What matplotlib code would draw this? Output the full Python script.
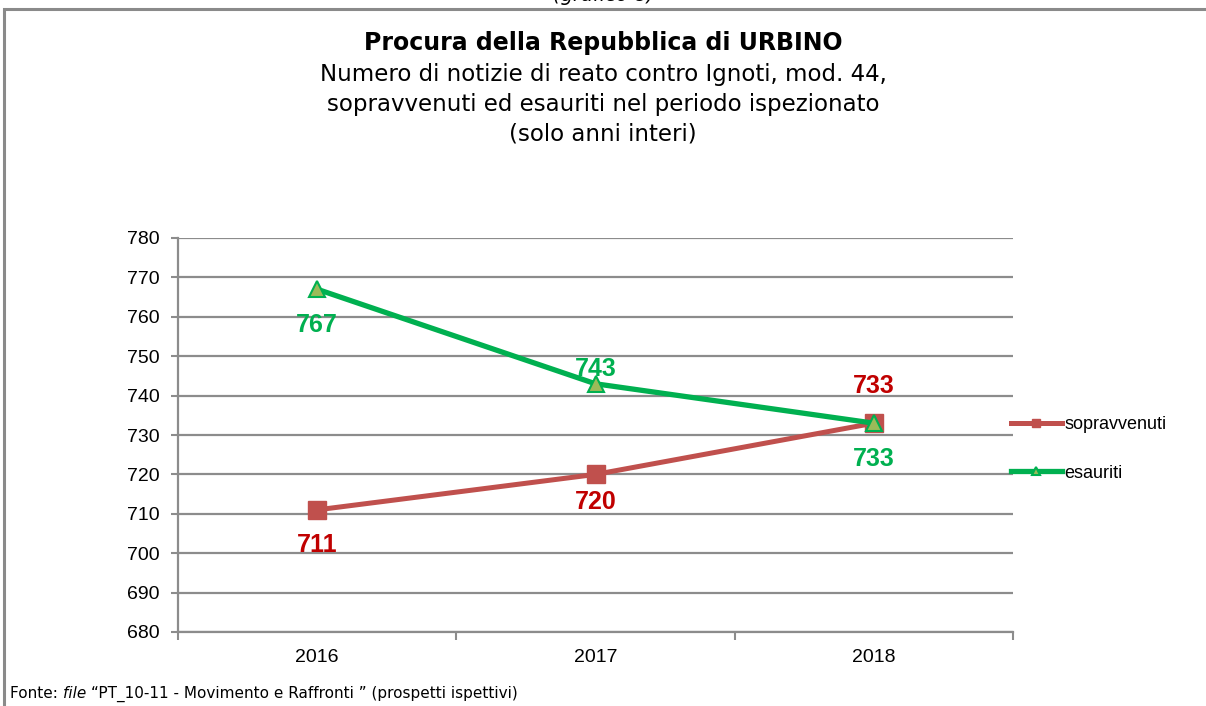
#!/usr/bin/env python3
"""Procura di Urbino - notizie di reato contro Ignoti, mod. 44"""

import matplotlib
matplotlib.use('Agg')
import matplotlib.pyplot as plt
from matplotlib.patches import Rectangle

years = ['2016', '2017', '2018']
sopravvenuti = [711, 720, 733]
esauriti = [767, 743, 733]

y_ticks = list(range(680, 781, 10))

title = 'Procura della Repubblica di URBINO'
subtitle = ('Numero di notizie di reato contro Ignoti, mod. 44,\n'
            'sopravvenuti ed esauriti nel periodo ispezionato\n'
            '(solo anni interi)')

W, H = 1206, 706
GRID = '#8c8c8c'


def main() -> None:
    fig = plt.figure(figsize=(W / 100, H / 100), dpi=100)
    ax = fig.add_axes([178 / W, 1 - 632 / H, (1013 - 178) / W, (632 - 238) / H])

    x = list(range(len(years)))
    ax.plot(x, sopravvenuti, color='#c0504d', lw=3.6, marker='s', ms=13,
            mfc='#c0504d', mec='#c0504d', label='sopravvenuti', zorder=3)
    ax.plot(x, esauriti, color='#00b050', lw=3.8, marker='^', ms=12,
            mfc='#9bbb59', mec='#00b050', mew=1.5, label='esauriti', zorder=4)

    lab = dict(ha='center', va='center', fontsize=18, fontweight='bold',
               family='Liberation Sans', textcoords='offset points')
    off_s = [-25, -20, 27]
    off_e = [-26, 11, -26]
    for i, v in enumerate(sopravvenuti):
        ax.annotate(str(v), (i, v), xytext=(0, off_s[i]), color='#c00000', **lab)
    for i, v in enumerate(esauriti):
        ax.annotate(str(v), (i, v), xytext=(0, off_e[i]), color='#00b050', **lab)

    ax.set_xlim(-0.5, 2.5)
    ax.set_ylim(680, 780)
    ax.set_yticks(y_ticks)
    ax.set_xticks(x)
    ax.set_xticklabels(years)
    ax.set_xticks([-0.5, 0.5, 1.5, 2.5], minor=True)
    ax.tick_params(axis='x', which='major', length=0, pad=12)
    ax.tick_params(axis='x', which='minor', length=6, width=1.5, color=GRID)
    ax.tick_params(axis='y', length=5, width=1.5, color=GRID, pad=8)
    for t in ax.get_xticklabels() + ax.get_yticklabels():
        t.set_family('Liberation Sans')
        t.set_fontsize(14)
    ax.grid(axis='y', color=GRID, lw=1.6)
    ax.set_axisbelow(True)
    for s in ('top', 'right'):
        ax.spines[s].set_visible(False)
    for s in ('left', 'bottom'):
        ax.spines[s].set_color(GRID)
        ax.spines[s].set_linewidth(1.6)

    leg = fig.legend(loc='center left', bbox_to_anchor=(1011 / W, 1 - 449 / H),
                     frameon=False, handlelength=2.8, handletextpad=0.15,
                     labelspacing=1.75, borderaxespad=0, borderpad=0,
                     prop={'family': 'Liberation Sans', 'size': 13})
    for h in leg.legend_handles:
        h.set_markersize(6)

    fig.text(0.5, 1 - 43 / H, title, ha='center', va='center',
             fontsize=17, fontweight='bold', family='DejaVu Sans')
    fig.text(0.5, 1 - 104 / H, subtitle, ha='center', va='center',
             fontsize=16.5, family='DejaVu Sans', linespacing=1.38)
    fig.text(604 / W, 1 - 1 / H, '(grafico 8)', ha='center', va='baseline',
             fontsize=14, style='italic', family='DejaVu Sans')

    fig.patches.append(Rectangle((4 / W, -0.1), 1.2, 1.1 - 9 / H,
                                 transform=fig.transFigure, fill=False,
                                 ec='#8a8a8a', lw=2.2))

    # footer with italic "file"
    fy = 1 - 694 / H
    t1 = fig.text(10 / W, fy, 'Fonte: ', fontsize=11, family='DejaVu Sans',
                  va='center')
    fig.canvas.draw()
    r = fig.canvas.get_renderer()
    x1 = t1.get_window_extent(r).x1
    t2 = fig.text(x1 / W, fy, 'file ', fontsize=11, family='DejaVu Sans',
                  style='italic', va='center')
    x2 = t2.get_window_extent(r).x1
    fig.text(x2 / W, fy, '\u201cPT_10-11 - Movimento e Raffronti \u201d (prospetti ispettivi)',
             fontsize=11, family='DejaVu Sans', va='center')

    fig.savefig('out.png', dpi=100)


if __name__ == '__main__':
    main()
